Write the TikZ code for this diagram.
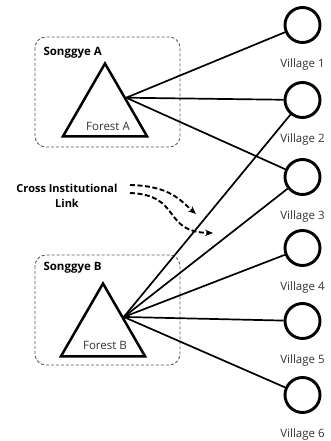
\documentclass[tikz,border=0pt]{standalone}
\usepackage{fontspec}
\setmainfont{Open Sans}
\usetikzlibrary{arrows.meta, positioning, shapes.geometric, calc}

\begin{document}
\begin{tikzpicture}[
  x=1pt, y=-1pt,
  village/.style={circle, draw, line width=2.9pt, minimum size=35pt, inner sep=0pt},
  vlabel/.style={font=\fontsize{11.5}{13}\selectfont, text=black!80},
  forest/.style={regular polygon, regular polygon sides=3, draw, line width=2.5pt, minimum size=97pt, inner sep=0pt},
  flabel/.style={font=\fontsize{11.5}{13}\selectfont, text=black!80},
  grp/.style={draw=black!65, dash pattern=on 3pt off 2pt, line width=0.9pt, rounded corners=11pt},
  glabel/.style={font=\fontsize{11.5}{13}\selectfont\bfseries, anchor=west},
  tie/.style={line width=1.7pt},
  xlink/.style={dash pattern=on 5pt off 2.5pt, line width=1.9pt, -{Stealth[length=8pt, width=6.5pt]}}
]
  \useasboundingbox (0,0) rectangle (331,441);
  \def\vx{302.5}

  % Villages
  \foreach \i/\y in {1/25, 2/100, 3/177, 4/248, 5/321, 6/395} {
    \node[village] (v\i) at (\vx,\y) {};
    \node[vlabel, below=11pt of v\i] (v\i lab) {Village \i};
  }

  % Songgye A
  \draw[grp] (35,37) rectangle (180,147);
  \node[glabel] (sgA) at (40,53) {Songgye A};
  \node[forest] (forA) at (105,112) {};
  \node[flabel] (forAlab) at (108,126) {Forest A};
  \coordinate (hubA) at ($(forA.corner 1)!0.48!(forA.corner 3)$);

  % Songgye B
  \draw[grp] (35,255) rectangle (180,365);
  \node[glabel] (sgB) at (40,268) {Songgye B};
  \node[forest] (forB) at (103,332) {};
  \node[flabel] (forBlab) at (105,345) {Forest B};
  \coordinate (hubB) at ($(forB.corner 1)!0.47!(forB.corner 3)$);

  % Links to villages
  \foreach \v in {1,2,3}
    \draw[tie] (hubA) -- (v\v);
  \foreach \v in {2,...,6}
    \draw[tie] (hubB) -- (v\v);

  % Cross institutional link
  \node[font=\fontsize{11}{15}\selectfont\bfseries, align=center, inner sep=1pt] (xlab) at (67,196)
    {Cross Institutional\\Link};
  \coordinate (xa0) at (130,185);
  \coordinate (xa1) at (196,214);
  \coordinate (xb0) at (130,193);
  \coordinate (xb1) at (213,233);
  \draw[xlink] (xa0) .. controls (170,186) and (180,200) .. (xa1);
  \draw[xlink] (xb0) .. controls (182,195) and (162,232) .. (xb1);
\end{tikzpicture}
\end{document}
